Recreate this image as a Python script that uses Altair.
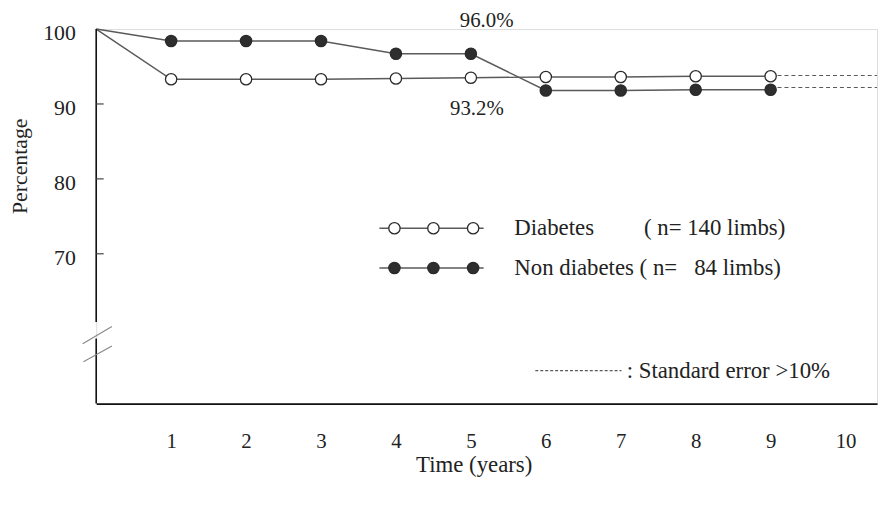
import altair as alt
import pandas as pd

# ---- data ----
years = [0, 1, 2, 3, 4, 5, 6, 7, 8, 9]
diabetes = [100, 93.3, 93.3, 93.3, 93.4, 93.5, 93.6, 93.6, 93.7, 93.7]
non_diabetes = [100, 98.4, 98.4, 98.4, 96.7, 96.7, 91.8, 91.8, 91.9, 91.9]
# dashed extension (standard error > 10%)
ext_x = [9, 10.42]
ext_diabetes = [93.8, 93.8]
ext_non_diabetes = [92.2, 92.2]

x_ticks = [1, 2, 3, 4, 5, 6, 7, 8, 9, 10]
y_ticks = [70, 80, 90, 100]
y_inner_ticks = [70, 80, 90]

annot_text = ["96.0%", "93.2%"]
annot_x = [5.21, 5.08]
annot_y = [101.1, 89.3]

FONT = "Liberation Serif"
INK = "#222222"
LINE = "#5a5a5a"
NB = "\u00a0"

X_DOM = [0, 10.42]
Y_DOM = [50, 100]

xs = alt.Scale(domain=X_DOM, nice=False, zero=False)
ys = alt.Scale(domain=Y_DOM, nice=False, zero=False)

rows = []
for x, d, n in zip(years, diabetes, non_diabetes):
    rows.append({"x": x, "y": d, "s": "Diabetes"})
    rows.append({"x": x, "y": n, "s": "Non diabetes"})
df = pd.DataFrame(rows)
pts = df[df.x > 0]

ext = pd.DataFrame(
    [{"x": x, "y": y, "s": "Diabetes"} for x, y in zip(ext_x, ext_diabetes)]
    + [{"x": x, "y": y, "s": "Non diabetes"} for x, y in zip(ext_x, ext_non_diabetes)]
)

X = alt.X("x:Q", scale=xs,
          axis=alt.Axis(values=x_ticks, format="d", ticks=False, grid=False, domain=True,
                        domainColor="#111", domainWidth=1.6,
                        labelFont=FONT, labelFontSize=21, labelColor=INK,
                        labelPadding=27, title="Time (years)", titleFont=FONT,
                        titleFontSize=23, titleFontWeight="normal", titleColor=INK,
                        titleX=381, titleY=62, titleBaseline="middle"))
Y = alt.Y("y:Q", scale=ys,
          axis=alt.Axis(values=y_ticks, format="d", ticks=False, grid=False, domain=False,
                        labelFont=FONT, labelFontSize=22, labelColor=INK,
                        labelPadding=21, labelOffset=4,
                        title="Percentage", titleFont=FONT, titleFontSize=22,
                        titleFontWeight="normal", titleColor=INK, titleAngle=270,
                        titleX=-77, titleY=138, titleBaseline="middle",
                        titleAlign="center"))

lines = alt.Chart(df).mark_line(color=LINE, strokeWidth=1.5).encode(
    x=X, y=Y, detail="s:N")

fill_scale = alt.Scale(domain=["Diabetes", "Non diabetes"], range=["#ffffff", "#2e2e2e"])

points = alt.Chart(pts).mark_point(shape="circle", size=130, filled=True,
                                   stroke="#2a2a2a", strokeWidth=1.3, opacity=1).encode(
    x=alt.X("x:Q", scale=xs), y=alt.Y("y:Q", scale=ys),
    fill=alt.Fill("s:N", scale=fill_scale, legend=None))

dashed = alt.Chart(ext).mark_line(color=LINE, strokeWidth=1.1, strokeDash=[4, 3]).encode(
    x=alt.X("x:Q", scale=xs), y=alt.Y("y:Q", scale=ys), detail="s:N")

# y axis line with a break
yaxis = pd.DataFrame({"x": [0, 0], "y": [100, 58.7], "y2": [60.9, 50]})
yline = alt.Chart(yaxis).mark_rule(color="#111", strokeWidth=1.6).encode(
    x=alt.X("x:Q", scale=xs), y=alt.Y("y:Q", scale=ys), y2="y2:Q")

slash = pd.DataFrame({"x": [-0.18, -0.17], "x2": [0.21, 0.21],
                      "y": [58.0, 55.6], "y2": [60.3, 57.7]})
slashes = alt.Chart(slash).mark_rule(color="#888", strokeWidth=1.1).encode(
    x=alt.X("x:Q", scale=xs), x2="x2:Q", y=alt.Y("y:Q", scale=ys), y2="y2:Q")

itk = pd.DataFrame({"x": [0] * len(y_inner_ticks), "x2": [0.1] * len(y_inner_ticks),
                    "y": y_inner_ticks})
inner_ticks = alt.Chart(itk).mark_rule(color="#444", strokeWidth=1.2).encode(
    x=alt.X("x:Q", scale=xs), x2="x2:Q", y=alt.Y("y:Q", scale=ys))

annot = alt.Chart(pd.DataFrame({"x": annot_x, "y": annot_y, "t": annot_text})).mark_text(
    font=FONT, fontSize=21, color=INK, align="center", baseline="middle").encode(
    x=alt.X("x:Q", scale=xs), y=alt.Y("y:Q", scale=ys), text="t:N")

# ---- in-plot legend ----
leg_y = [73.4, 68.1]
leg_series = ["Diabetes", "Non diabetes"]
leg_sym_x = [3.98, 4.5, 5.03]
leg_line_x = [3.78, 5.17]

leg_lines = pd.DataFrame([{"x": leg_line_x[0], "x2": leg_line_x[1], "y": y} for y in leg_y])
legend_lines = alt.Chart(leg_lines).mark_rule(color=LINE, strokeWidth=1.4).encode(
    x=alt.X("x:Q", scale=xs), x2="x2:Q", y=alt.Y("y:Q", scale=ys))

leg_pts = pd.DataFrame([{"x": x, "y": y, "s": s} for y, s in zip(leg_y, leg_series)
                        for x in leg_sym_x])
legend_pts = alt.Chart(leg_pts).mark_point(shape="circle", size=130, filled=True,
                                           stroke="#2a2a2a", strokeWidth=1.3, opacity=1).encode(
    x=alt.X("x:Q", scale=xs), y=alt.Y("y:Q", scale=ys),
    fill=alt.Fill("s:N", scale=fill_scale, legend=None))

leg_text = pd.DataFrame({
    "x": [5.58, 7.31, 5.58, 7.08],
    "y": [73.4, 73.4, 68.1, 54.4],
    "t": ["Diabetes", "( n= 140 limbs)", f"Non diabetes ( n={NB}{NB}{NB}84 limbs)",
          ": Standard error >10%"],
})
legend_text = alt.Chart(leg_text).mark_text(
    font=FONT, fontSize=23, color=INK, align="left", baseline="middle").encode(
    x=alt.X("x:Q", scale=xs), y=alt.Y("y:Q", scale=ys), text="t:N")

se_line = pd.DataFrame({"x": [5.86, 7.01], "y": [54.4, 54.4]})
se = alt.Chart(se_line).mark_line(color=LINE, strokeWidth=1.1, strokeDash=[3, 2]).encode(
    x=alt.X("x:Q", scale=xs), y=alt.Y("y:Q", scale=ys))

chart = alt.layer(
    lines, dashed, yline, slashes, inner_ticks, points, annot,
    legend_lines, legend_pts, legend_text, se
).properties(
    width=788, height=378,
    autosize=alt.AutoSizeParams(type="none"),
    padding={"left": 89, "top": 19, "right": 2, "bottom": 92},
).configure_view(strokeWidth=0, strokeOpacity=0).configure_axis(grid=False).configure(background="white")

chart.save("out.html", embed_options={"renderer": "svg", "actions": False})
